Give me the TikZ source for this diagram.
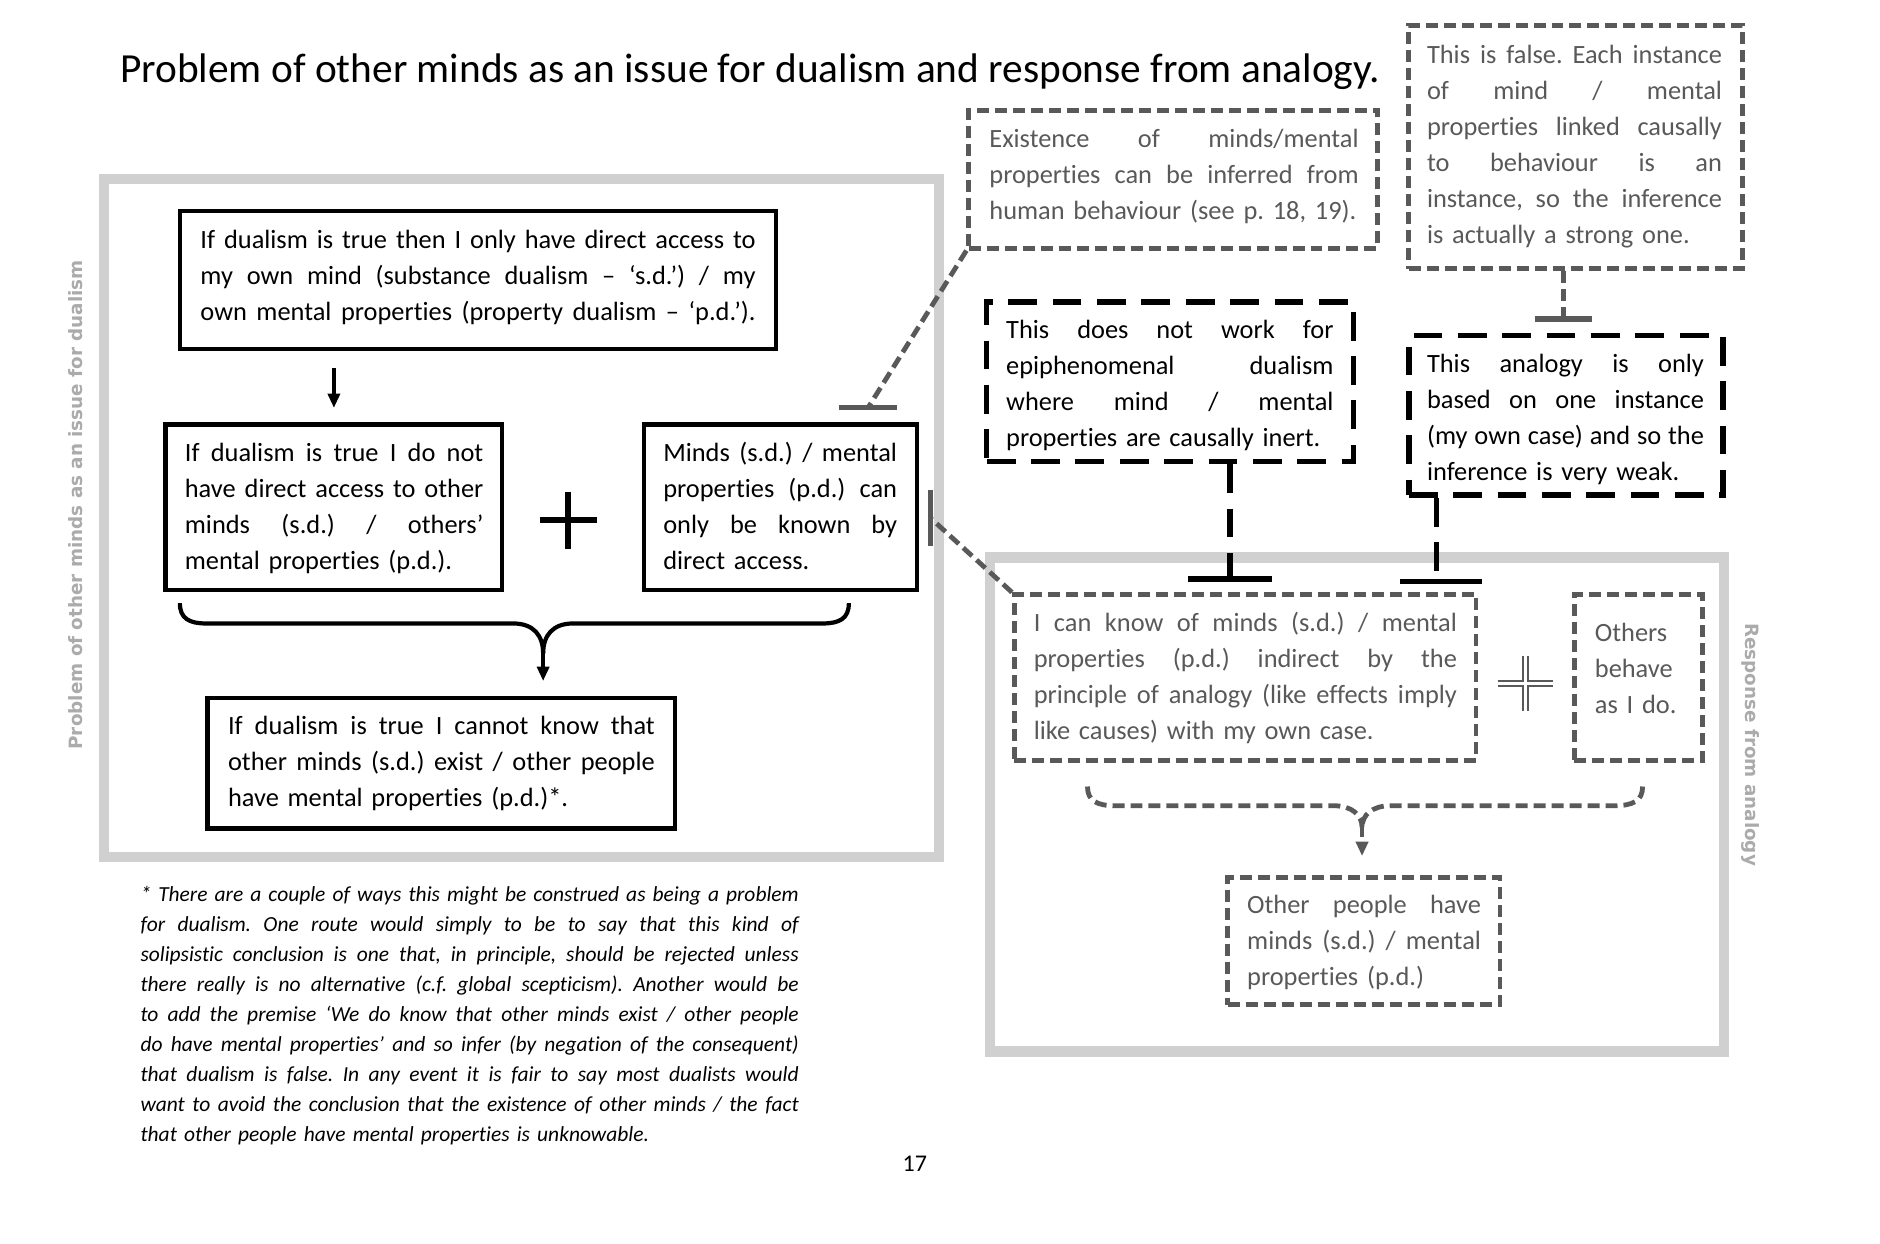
\documentclass[tikz,border=0pt]{standalone}
\usepackage{fontspec}
\setmainfont{Carlito}[Ligatures={TeX,NoCommon}]
\newfontfamily\labelfont{DejaVu Sans}
\usetikzlibrary{arrows.meta,calc}
\definecolor{dg}{HTML}{595959}
\definecolor{lg}{HTML}{D0D0D0}
\definecolor{lab}{HTML}{ABABAB}
\frenchspacing
\newcommand\JLine[1]{\makebox[\hsize][s]{\spaceskip=0pt\xspaceskip=0pt #1}\\}
\begin{document}
\begin{tikzpicture}[x=1pt,y=-1pt,
  frame/.style={draw=lg,line width=8.5pt},
  solidbox/.style={draw=black,line width=3.5pt,inner sep=0pt,rectangle},
  greybox/.style={draw=dg,line width=4pt,dash pattern=on 10pt off 5pt,inner sep=0pt,rectangle},
  blackbox/.style={draw=black,line width=4.5pt,dash pattern=on 24pt off 13pt,inner sep=0pt,rectangle},
  txt/.style={inner sep=0pt,align=left,anchor=base west,font=\fontsize{22}{30}\selectfont\frenchspacing},
  gtxt/.style={txt,text=dg},
  gline/.style={draw=dg,line width=4pt,dash pattern=on 10pt off 5pt},
  bline/.style={draw=black,line width=4.5pt,dash pattern=on 24pt off 13pt},
  gbar/.style={draw=dg,line width=4.5pt},
  bbar/.style={draw=black,line width=4.5pt},
  sidelabel/.style={inner sep=0pt,text=lab,font=\labelfont\bfseries\fontsize{15.3}{18}\selectfont}
]
\fill[white] (0,0) rectangle (1568,1037.5);
\useasboundingbox (0,0) rectangle (1568,1037.5);

% title
\node[inner sep=0pt,anchor=base west,font=\fontsize{34.5}{40}\selectfont] (title) at (100,69)
  {Problem of other minds as an issue for dualism and response from analogy.};

% frames
\draw[frame] (87,149) rectangle (783,715);
\draw[frame] (826,465) rectangle (1438,877);
\node[sidelabel,rotate=90] (leftlabel) at (63,421) {Problem of other minds as an issue for dualism};
\node[sidelabel,rotate=-90] (rightlabel) at (1460,621) {Response from analogy};

% left boxes
\node[solidbox,minimum width=497pt,minimum height=115pt] (A) at (398.5,233.5) {};
\node[txt,text width=463pt] (At) at (167,207) {\JLine{If dualism is true then I only have direct access to}\JLine{my own mind (substance dualism – ‘s.d.’) / my}\makebox[\hsize][s]{\spaceskip=0pt\xspaceskip=0pt own mental properties (property dualism – ‘p.d.’).}};

\node[solidbox,minimum width=281pt,minimum height=138pt] (B) at (278.5,423) {};
\node[txt,text width=249pt] (Bt) at (154,385) {\JLine{If dualism is true I do not}\JLine{have direct access to other}\JLine{minds (s.d.) / others’}mental properties (p.d.).};

\node[solidbox,minimum width=228pt,minimum height=138pt] (C) at (651,423) {};
\node[txt,text width=195pt] (Ct) at (553,385) {\JLine{Minds (s.d.) / mental}\JLine{properties (p.d.) can}\JLine{only be known by}direct access.};

\node[solidbox,minimum width=390pt,minimum height=109pt] (D) at (368,636.5) {};
\node[txt,text width=356pt] (Dt) at (190,613) {\JLine{If dualism is true I cannot know that}\JLine{other minds (s.d.) exist / other people}have mental properties (p.d.)*.};

% plus sign left
\coordinate (plusL) at (474,434);
\draw[line width=5pt] ([yshift=24pt]plusL) -- ([yshift=-24pt]plusL) ([xshift=-24pt]plusL) -- ([xshift=24pt]plusL);

% arrow A -> B
\path (A.south -| B.north) ++(0,14) coordinate (a1);
\coordinate (a2) at ([yshift=12pt]B.north);
\draw[line width=3pt,-{Triangle[length=12pt,width=10pt]}] (a1) -- (a2);

% brace B+C -> D
\coordinate (bl) at (150,503);
\coordinate (br) at (708,503);
\coordinate (bt) at (453,545);
\coordinate (bd) at (453,568);
\draw[line width=3.5pt] (bl) .. controls (150,516) and (158,520) .. (172,520) -- (428,520) .. controls (445,520) and (453,530) .. (bt);
\draw[line width=3.5pt] (br) .. controls (708,516) and (700,520) .. (686,520) -- (478,520) .. controls (461,520) and (453,530) .. (bt);
\draw[line width=3pt,-{Triangle[length=12pt,width=10pt]}] ([yshift=3pt]bt) -- (bd);

% footnote
\node[txt,text width=549pt,font=\itshape\fontsize{17.9}{25}\selectfont\frenchspacing] (foot) at (117,752) {%
\JLine{* There are a couple of ways this might be construed as being a problem}%
\JLine{for dualism. One route would simply to be to say that this kind of}%
\JLine{solipsistic conclusion is one that, in principle, should be rejected unless}%
\JLine{there really is no alternative (c.f. global scepticism). Another would be}%
\JLine{to add the premise ‘We do know that other minds exist / other people}%
\JLine{do have mental properties’ and so infer (by negation of the consequent)}%
\JLine{that dualism is false. In any event it is fair to say most dualists would}%
\JLine{want to avoid the conclusion that the existence of other minds / the fact}%
that other people have mental properties is unknowable.};

\node[inner sep=0pt,anchor=base,font=\fontsize{20}{24}\selectfont] (page) at (763,977) {17};

% right side boxes
\node[greybox,minimum width=341pt,minimum height=115pt] (E) at (978.5,149.5) {};
\node[gtxt,text width=308pt] (Et) at (825,123) {\JLine{Existence of minds/mental}\JLine{properties can be inferred from}human behaviour (see p. 18, 19).};

\node[greybox,minimum width=278pt,minimum height=203pt] (F) at (1314,122.5) {};
\node[gtxt,text width=246pt] (Ft) at (1190,53) {\JLine{This is false. Each instance}\JLine{of mind / mental}\JLine{properties linked causally}\JLine{to behaviour is an}\JLine{instance, so the inference}is actually a strong one.};

\node[blackbox,minimum width=306pt,minimum height=133pt] (G) at (976,318.5) {};
\node[txt,text width=273pt] (Gt) at (839,282) {\JLine{This does not work for}\JLine{epiphenomenal dualism}\JLine{where mind / mental}properties are causally inert.};

\node[blackbox,minimum width=262pt,minimum height=133pt] (H) at (1306,346.5) {};
\node[txt,text width=231pt] (Ht) at (1190,311) {\JLine{This analogy is only}\JLine{based on one instance}\JLine{(my own case) and so the}inference is very weak.};

\node[greybox,minimum width=385pt,minimum height=138pt] (I) at (1038.5,565) {};
\node[gtxt,text width=353pt] (It) at (862,527) {\JLine{I can know of minds (s.d.) / mental}\JLine{properties (p.d.) indirect by the}\JLine{principle of analogy (like effects imply}like causes) with my own case.};

\node[greybox,minimum width=107pt,minimum height=138pt] (J) at (1366.5,565) {};
\node[gtxt,text width=80pt] (Jt) at (1330,535) {Others\\behave\\as I do.};

\node[greybox,minimum width=227pt,minimum height=106pt] (K) at (1137.5,785) {};
\node[gtxt,text width=195pt] (Kt) at (1040,762) {\JLine{Other people have}\JLine{minds (s.d.) / mental}properties (p.d.)};

% plus sign right (outlined)
\coordinate (plusR) at (1272,570);
\draw[draw=dg,line width=1.6pt,double=white,double distance=2.6pt] ([yshift=23pt]plusR) -- ([yshift=-23pt]plusR) ([xshift=-23pt]plusR) -- ([xshift=23pt]plusR);

% dashed brace I+J -> K
\coordinate (rl) at (907,656);
\coordinate (rr) at (1370,656);
\coordinate (rt) at (1136,690);
\coordinate (rd) at (1136,714);
\draw[gline] (rl) .. controls (907,668) and (915,672) .. (930,672) -- (1112,672) .. controls (1128,672) and (1136,680) .. (rt);
\draw[gline] (rr) .. controls (1370,668) and (1362,672) .. (1346,672) -- (1160,672) .. controls (1144,672) and (1136,680) .. (rt);
\draw[draw=dg,line width=3pt,dash pattern=on 8pt off 4pt,-{Triangle[length=12pt,width=10pt]}] (rt) -- (rd);

% objection connectors with bars
\coordinate (tEC) at (724,340);
\draw[gline] (E.south west) -- (tEC);
\draw[gbar] ([xshift=-24pt]tEC) -- ([xshift=24pt]tEC);

\coordinate (tIC) at (776,432);
\draw[gline] (I.north west) -- (tIC);
\draw[gbar] ([yshift=23pt]tIC) -- ([yshift=-23pt]tIC);

\coordinate (tFH) at (1304,266);
\draw[gline] ([xshift=-10pt]F.south) -- (tFH);
\draw[gbar] ([xshift=-24pt]tFH) -- ([xshift=24pt]tFH);

\coordinate (tGI) at (1026,483);
\draw[bline] ([xshift=50pt]G.south) -- (tGI);
\draw[bbar] ([xshift=-35pt]tGI) -- ([xshift=35pt]tGI);

\coordinate (tHI) at (1198,485);
\draw[bline] ([xshift=-108pt]H.south) -- (tHI);
\draw[bbar] ([xshift=-30pt]tHI) -- ([xshift=38pt]tHI);
\end{tikzpicture}
\end{document}
